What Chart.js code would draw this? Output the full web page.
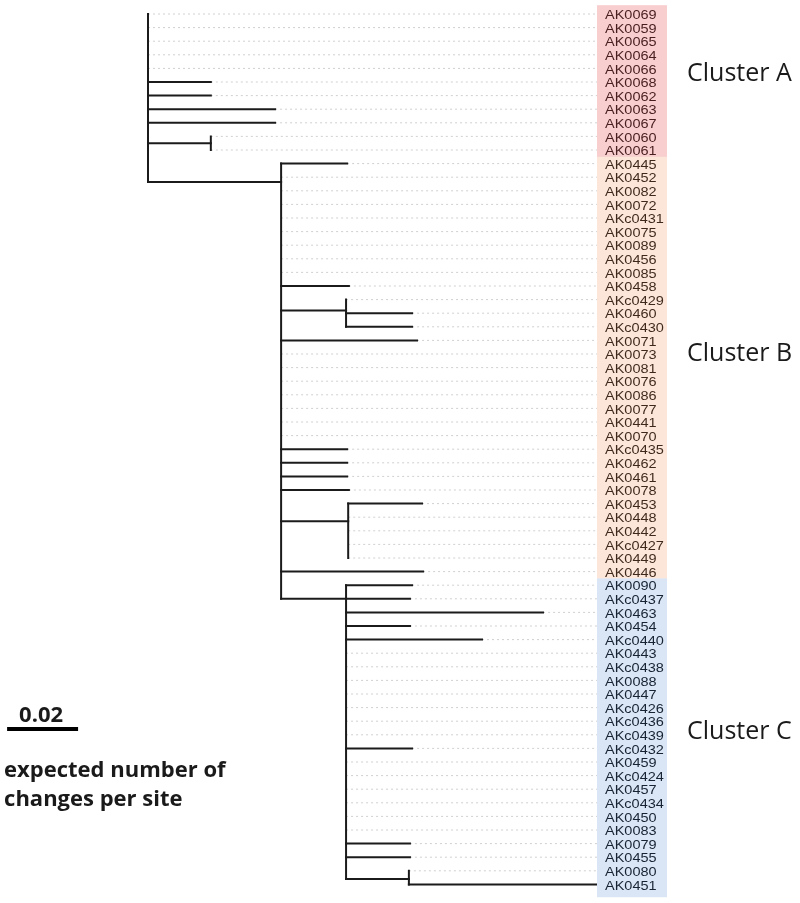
<!DOCTYPE html>
<html><head><meta charset="utf-8">
<script src="https://cdn.jsdelivr.net/npm/chart.js@4.4.1/dist/chart.umd.min.js"></script>
<style>html,body{margin:0;padding:0;background:#fff;}#wrap{width:800px;height:903px;}</style>
</head><body><div id="wrap"><canvas id="c" width="800" height="903"></canvas></div>
<script>
// ---------- DATA ----------
const leafNames = ['AK0069','AK0059','AK0065','AK0064','AK0066','AK0068','AK0062','AK0063','AK0067','AK0060','AK0061',
  'AK0445','AK0452','AK0082','AK0072','AKc0431','AK0075','AK0089','AK0456','AK0085','AK0458','AKc0429','AK0460','AKc0430',
  'AK0071','AK0073','AK0081','AK0076','AK0086','AK0077','AK0441','AK0070','AKc0435','AK0462','AK0461','AK0078','AK0453',
  'AK0448','AK0442','AKc0427','AK0449','AK0446',
  'AK0090','AKc0437','AK0463','AK0454','AKc0440','AK0443','AKc0438','AK0088','AK0447','AKc0426','AKc0436','AKc0439',
  'AKc0432','AK0459','AKc0424','AK0457','AKc0434','AK0450','AK0083','AK0079','AK0455','AK0080','AK0451'];
const leafParent = ['root','root','root','root','root','root','root','root','root','A1','A1',
  'BC','BC','BC','BC','BC','BC','BC','BC','BC','BC','B1','B1','B1',
  'BC','BC','BC','BC','BC','BC','BC','BC','BC','BC','BC','BC','B2',
  'B2','B2','B2','B2','BC',
  'C','C','C','C','C','C','C','C','C','C','C','C',
  'C','C','C','C','C','C','C','C','C','C1','C1'];
const leafBranch = [0,0,0,0,0,0.0177,0.0177,0.0358,0.0358,0,0,
  0.0186,0,0,0,0,0,0,0,0,0.0191,0,0.0186,0.0186,
  0.0383,0,0,0,0,0,0,0,0.0186,0.0186,0.0186,0.0191,0.0208,
  0,0,0,0,0.0400,
  0.0186,0.0180,0.0555,0.0180,0.0383,0,0,0,0,0,0,0,
  0.0186,0,0,0,0,0,0,0.0180,0.0180,0,0.0530];
const nodeNames  = ['root','A1','BC','B1','B2','C','C1'];
const nodeParent = [null,'root','root','BC','BC','BC','C'];
const nodeBranch = [0,0.0177,0.0375,0.0183,0.0189,0.0183,0.0177];
const nodeRow    = [null,9.5,12.35,21.8,37.3,43,63.6];
const clusterNames = ['Cluster A','Cluster B','Cluster C'];
const clusterStart = [0,11,42];
const clusterEnd   = [10,41,64];
const scaleBarValue = 0.02;
const scaleBarLabel = '0.02';
const scaleCaption = ['expected number of','changes per site'];

// ---------- LAYOUT FROM TREE ----------
const X_MIN = -0.0417, X_MAX = 0.1265;
const depth = {};
nodeNames.forEach((n,i)=>{
  const p = nodeParent[i];
  depth[n] = (p===null?0:depth[p]) + nodeBranch[i];
});
const solid = [], dotted = [];
const children = {}; nodeNames.forEach(n=>children[n]=[]);
leafNames.forEach((name,i)=>{
  const p = leafParent[i];
  const x0 = depth[p], x1 = x0 + leafBranch[i];
  children[p].push(i);
  if (leafBranch[i] > 0) solid.push([{x:x0,y:i},{x:x1,y:i}]);
  if (x1 < X_MAX - 1e-6) dotted.push([{x:x1,y:i},{x:X_MAX,y:i}]);
});
nodeNames.forEach((n,i)=>{
  const p = nodeParent[i];
  if (p !== null) { children[p].push(nodeRow[i]); solid.push([{x:depth[p],y:nodeRow[i]},{x:depth[n],y:nodeRow[i]}]); }
});
nodeNames.forEach(n=>{
  const rows = children[n];
  const lo = Math.min(...rows), hi = Math.max(...rows);
  solid.push([{x:depth[n],y:lo},{x:depth[n],y:hi}]);
});
const barStart = X_MIN + 0.002, barRow = 52.57;

const datasets = [];
solid.forEach(seg=>datasets.push({data:seg,showLine:true,borderColor:'#1b1b1b',borderWidth:2,pointRadius:0,borderCapStyle:'square',order:0}));
dotted.forEach(seg=>datasets.push({data:seg,showLine:true,borderColor:'rgba(150,150,150,0.45)',borderWidth:1,borderDash:[2,3],pointRadius:0,order:1}));
datasets.push({data:[{x:barStart,y:barRow},{x:barStart+scaleBarValue,y:barRow}],showLine:true,borderColor:'#000',borderWidth:4,pointRadius:0,order:0});

const overlayColors = ['rgba(230,80,80,0.28)','rgba(240,140,80,0.22)','rgba(70,130,210,0.2)'];

const labelPlugin = {
  id:'treeLabels',
  afterDraw(chart){
    const ctx = chart.ctx, ys = chart.scales.y, xs = chart.scales.x, ca = chart.chartArea;
    ctx.save();
    // leaf labels (stretched Arial)
    ctx.fillStyle = '#0c0c0c';
    ctx.font = '12.2px "Liberation Sans", Arial, sans-serif';
    ctx.textBaseline = 'alphabetic';
    leafNames.forEach((n,i)=>{
      const y = ys.getPixelForValue(i);
      ctx.save(); ctx.translate(ca.right+8, y+5.2); ctx.scale(1.19,1); ctx.fillText(n,0,0); ctx.restore();
    });
    // cluster boxes as tinted overlays
    clusterNames.forEach((c,k)=>{
      let top = ys.getPixelForValue(clusterStart[k]-0.5), bot = ys.getPixelForValue(clusterEnd[k]+0.5);
      if (k===0) top -= 2; if (k===clusterNames.length-1) bot += 6;
      ctx.fillStyle = overlayColors[k];
      ctx.fillRect(ca.right, top, 70, bot-top);
    });
    // cluster names
    ctx.fillStyle = '#1a1a1a';
    ctx.font = '25px "Open Sans", sans-serif';
    const clusterY = [81, 361, 739];
    clusterNames.forEach((c,k)=>{ ctx.fillText(c, 687, clusterY[k]); });
    // scale bar texts
    const bx = xs.getPixelForValue(barStart), by = ys.getPixelForValue(barRow);
    ctx.font = 'bold 22px "Open Sans", sans-serif';
    ctx.fillText(scaleBarLabel, bx+12, by-7);
    ctx.fillText(scaleCaption[0], bx-3, by+48);
    ctx.fillText(scaleCaption[1], bx-3, by+77);
    ctx.restore();
  }
};

new Chart(document.getElementById('c'), {
  type:'scatter',
  data:{datasets},
  options:{
    responsive:false, animation:false,
    layout:{padding:{left:0,right:203,top:7.2,bottom:11.8}},
    scales:{
      x:{type:'linear',display:false,min:X_MIN,max:X_MAX},
      y:{type:'linear',display:false,reverse:true,min:-0.5,max:64.5}
    },
    plugins:{legend:{display:false},tooltip:{enabled:false}},
    elements:{point:{radius:0},line:{tension:0}}
  },
  plugins:[labelPlugin]
});
</script></body></html>
